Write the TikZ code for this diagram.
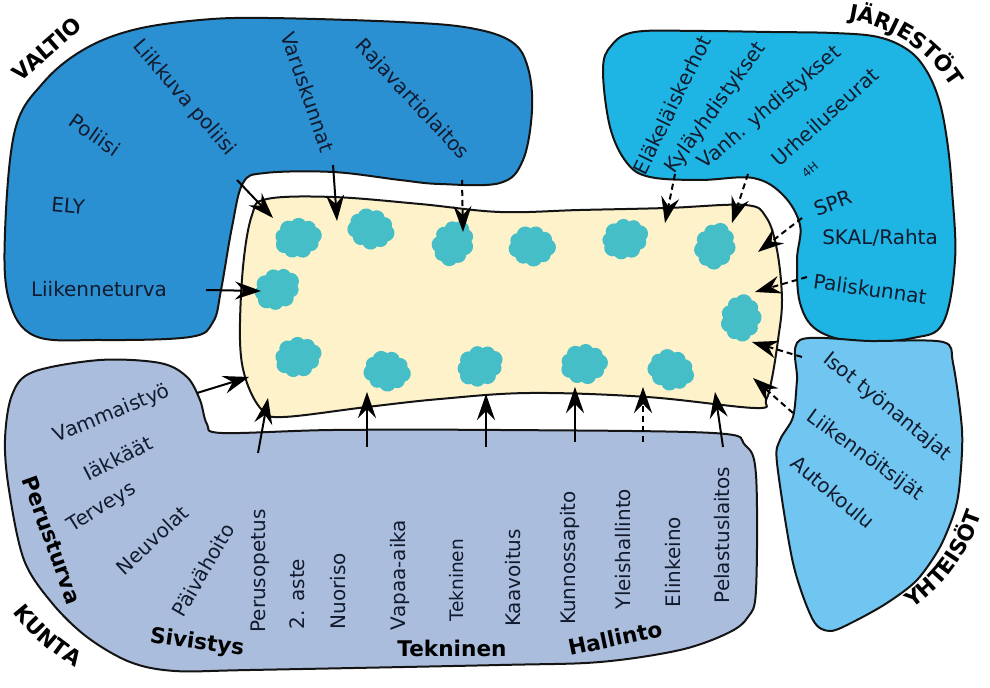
\documentclass[tikz,border=0pt]{standalone}
\usepackage{fontspec}
\setmainfont{DejaVu Sans}
\usetikzlibrary{arrows.meta,decorations.text}
\definecolor{valtioc}{RGB}{43,144,210}
\definecolor{jarjc}{RGB}{30,180,227}
\definecolor{yhtc}{RGB}{112,198,240}
\definecolor{kuntac}{RGB}{170,189,221}
\definecolor{yellowc}{RGB}{253,242,201}
\definecolor{cloudc}{RGB}{69,190,199}
\definecolor{txtc}{RGB}{18,26,46}
\definecolor{linec}{RGB}{20,20,20}
\tikzset{
  blob/.style={draw=linec, line width=1pt},
  lbl/.style={font=\fontsize{10}{12}\selectfont, text=txtc, inner sep=0pt},
  bld/.style={font=\fontsize{10.8}{13}\selectfont\bfseries, text=black, inner sep=0pt},
  arr/.style={draw=black, line width=1pt, -{Stealth[length=13pt,width=9pt,inset=4.5pt]}},
  darr/.style={arr, dash pattern=on 3pt off 2pt},
  curvetitle/.style={decorate, decoration={text along path, text align=center,
     text={|\fontsize{10.8}{13}\selectfont\bfseries|#1}}},
  cloud/.pic={
    \fill[cloudc] (0,0) ellipse [x radius=16, y radius=12.5];
    \foreach \a/\r in {0/8.5,40/7.5,80/8.5,120/8,160/8.5,200/7.5,240/8.5,280/8,320/7.5}
      \fill[cloudc] ({15.5*cos(\a)},{12*sin(\a)}) circle (\r);
  }
}
\begin{document}
\begin{tikzpicture}[x=0.5pt,y=-0.5pt]
\useasboundingbox (0,0) rectangle (990,688);
\fill[white] (0,0) rectangle (990,688);

% VALTIO
\draw[blob, fill=valtioc] plot[smooth cycle, tension=0.6] coordinates {(267,18) (400,22) (470,28) (512,42) (528,68) (532,110) (523,160) (500,183) (440,184) (400,180) (333,172) (265,173) (243,183) (232,227) (221,290) (213,322) (190,337) (100,340) (35,336) (9,300) (5,233) (15,130) (43,83) (83,50) (133,30) (200,20)};
% JARJESTOT
\draw[blob, fill=jarjc] plot[smooth cycle, tension=0.6] coordinates {(635,32) (700,31) (770,32) (833,33) (878,37) (908,50) (926,70) (939,100) (947,140) (952,190) (955,260) (943,323) (913,338) (857,342) (817,330) (800,303) (797,260) (800,225) (783,195) (753,178) (700,180) (650,177) (627,163) (610,127) (603,70) (611,46)};
% YHTEISOT
\draw[blob, fill=yhtc] plot[smooth cycle, tension=0.5] coordinates {(800,340) (870,341) (943,342) (953,363) (962,430) (960,480) (955,510) (940,547) (917,580) (887,603) (853,622) (830,631) (813,620) (793,563) (777,463) (780,440) (793,417) (797,380)};
% KUNTA
\draw[blob, fill=kuntac] plot[smooth cycle, tension=0.55] coordinates {(100,360) (160,363) (187,377) (200,400) (207,424) (222,433) (333,430) (500,430) (713,433) (745,445) (756,475) (756,590) (748,617) (728,633) (680,650) (600,662) (500,665) (250,670) (175,671) (130,662) (87,637) (52,603) (24,560) (9,490) (5,440) (12,395) (33,372)};
% centre
\draw[blob, fill=yellowc] plot[smooth cycle, tension=0.6] coordinates {(267,199) (333,197) (420,204) (500,212) (580,210) (667,208) (745,205) (766,217) (777,250) (782,300) (778,340) (772,378) (766,400) (755,408) (647,397) (530,393) (440,399) (367,407) (283,417) (262,410) (246,380) (240,340) (243,267) (252,215)};

% clouds
\pic[rotate=10] at (298,238) {cloud};
\pic[rotate=-15] at (371,229) {cloud};
\pic[rotate=60] at (453,243) {cloud};
\pic[rotate=-5] at (532,246) {cloud};
\pic[rotate=20] at (625,239) {cloud};
\pic[rotate=70] at (715,246) {cloud};
\pic[rotate=30] at (277,289) {cloud};
\pic[rotate=80] at (741,318) {cloud};
\pic[rotate=15] at (298,357) {cloud};
\pic[rotate=-10] at (387,371) {cloud};
\pic[rotate=25] at (480,366) {cloud};
\pic[rotate=5] at (584,364) {cloud};
\pic[rotate=-20] at (671,370) {cloud};

% group titles
\node[bld, rotate=41] (tValtio) at (47,49) {VALTIO};
\coordinate (jA) at (836,18); \coordinate (jB) at (890,23);
\coordinate (jC) at (934,52); \coordinate (jD) at (958,98);
\path[curvetitle={JÄRJESTÖT}] (jA) .. controls (jB) and (jC) .. (jD);
\coordinate (yA) at (893,620); \coordinate (yB) at (937,596);
\coordinate (yC) at (971,560); \coordinate (yD) at (988,492);
\path[curvetitle={YHTEISÖT}] (yA) .. controls (yB) and (yC) .. (yD);
\coordinate (kA) at (2,597); \coordinate (kB) at (24,630);
\coordinate (kC) at (50,655); \coordinate (kD) at (92,677);
\path[curvetitle={KUNTA}] (kA) .. controls (kB) and (kC) .. (kD);
\node[bld, rotate=-70] (tPerus) at (52,540) {Perusturva};
\node[bld, rotate=-8] (tSiv) at (197,643) {Sivistys};
\node[bld] (tTek) at (452,648) {Tekninen};
\node[bld, rotate=12] (tHal) at (615,638) {Hallinto};

% VALTIO texts
\node[lbl, rotate=-35] (poliisi) at (95,135) {Poliisi};
\node[lbl, rotate=-5] (ely) at (68,206) {ELY};
\node[lbl] (liikt) at (99,289) {Liikenneturva};
\node[lbl, rotate=-49] (liikp) at (184,98) {Liikkuva poliisi};
\node[lbl, rotate=-71] (varus) at (308,92) {Varuskunnat};
\node[lbl, rotate=-47] (raja) at (412,100) {Rajavartiolaitos};

% JARJESTOT texts
\node[lbl, rotate=64] (elak) at (672,105) {Eläkeläiskerhot};
\node[lbl, rotate=54] (kyla) at (716,108) {Kyläyhdistykset};
\node[lbl, rotate=40] (vanh) at (770,108) {Vanh. yhdistykset};
\node[lbl, rotate=42] (urh) at (825,117) {Urheiluseurat};
\node[lbl, rotate=40, font=\fontsize{6}{7}\selectfont] (fourh) at (810,170) {4H};
\node[lbl, rotate=20] (spr) at (833,203) {SPR};
\node[lbl] (skal) at (880,238) {SKAL/Rahta};
\node[lbl, rotate=-8] (palis) at (870,289) {Paliskunnat};

% YHTEISOT texts
\node[lbl, rotate=-39] (isot) at (887,407) {Isot työnantajat};
\node[lbl, rotate=-36] (liikn) at (865,456) {Liikennöitsijät};
\node[lbl, rotate=-40] (auto) at (833,492) {Autokoulu};

% KUNTA texts
\node[lbl, rotate=22] (vamm) at (112,414) {Vammaistyö};
\node[lbl, rotate=27] (iakk) at (118,458) {Iäkkäät};
\node[lbl, rotate=32] (terv) at (102,508) {Terveys};
\node[lbl, rotate=43] (neuv) at (152,540) {Neuvolat};
\node[lbl, rotate=60] (paiv) at (203,570) {Päivähoito};
\node[lbl, rotate=90] (perop) at (260,571) {Perusopetus};
\node[lbl, rotate=90] (aste) at (297,594) {2. aste};
\node[lbl, rotate=90] (nuor) at (338,591) {Nuoriso};
\node[lbl, rotate=90] (vapaa) at (400,575) {Vapaa-aika};
\node[lbl, rotate=90, font=\fontsize{9.3}{11}\selectfont] (tekn) at (457,580) {Tekninen};
\node[lbl, rotate=90] (kaav) at (513,578) {Kaavoitus};
\node[lbl, rotate=90] (kunn) at (570,558) {Kunnossapito};
\node[lbl, rotate=90] (ylei) at (623,549) {Yleishallinto};
\node[lbl, rotate=90] (elin) at (673,562) {Elinkeino};
\node[lbl, rotate=90] (pelas) at (722,535) {Pelastuslaitos};

% arrow end points
\coordinate (s1) at (237,180); \coordinate (e1) at (273,218);
\coordinate (s2) at (333,165); \coordinate (e2) at (337,221);
\coordinate (s3) at (462,180); \coordinate (e3) at (463,232);
\coordinate (s4) at (206,290); \coordinate (e4) at (261,291);
\coordinate (s5) at (675,174); \coordinate (e5) at (665,223);
\coordinate (s6) at (748,174); \coordinate (e6) at (732,223);
\coordinate (s7) at (802,218); \coordinate (e7) at (758,252);
\coordinate (s8) at (807,277); \coordinate (e8) at (755,292);
\coordinate (s9) at (802,357); \coordinate (e9) at (752,342);
\coordinate (s10) at (793,413); \coordinate (e10) at (753,378);
\coordinate (s11) at (197,393); \coordinate (e11) at (249,377);
\coordinate (s12) at (258,453); \coordinate (e12) at (268,398);
\coordinate (s13) at (367,447); \coordinate (e13) at (367,392);
\coordinate (s14) at (486,447); \coordinate (e14) at (486,394);
\coordinate (s15) at (575,442); \coordinate (e15) at (575,387);
\coordinate (s16) at (643,442); \coordinate (e16) at (643,387);
\coordinate (s17) at (723,447); \coordinate (e17) at (715,392);

\draw[arr] (s1) -- (e1);
\draw[arr] (s2) -- (e2);
\draw[darr] (s3) -- (e3);
\draw[arr] (s4) -- (e4);
\draw[darr] (s5) -- (e5);
\draw[darr] (s6) -- (e6);
\draw[darr] (s7) -- (e7);
\draw[darr] (s8) -- (e8);
\draw[darr] (s9) -- (e9);
\draw[darr] (s10) -- (e10);
\draw[arr] (s11) -- (e11);
\draw[arr] (s12) -- (e12);
\draw[arr] (s13) -- (e13);
\draw[arr] (s14) -- (e14);
\draw[arr] (s15) -- (e15);
\draw[darr] (s16) -- (e16);
\draw[arr] (s17) -- (e17);
\end{tikzpicture}
\end{document}
